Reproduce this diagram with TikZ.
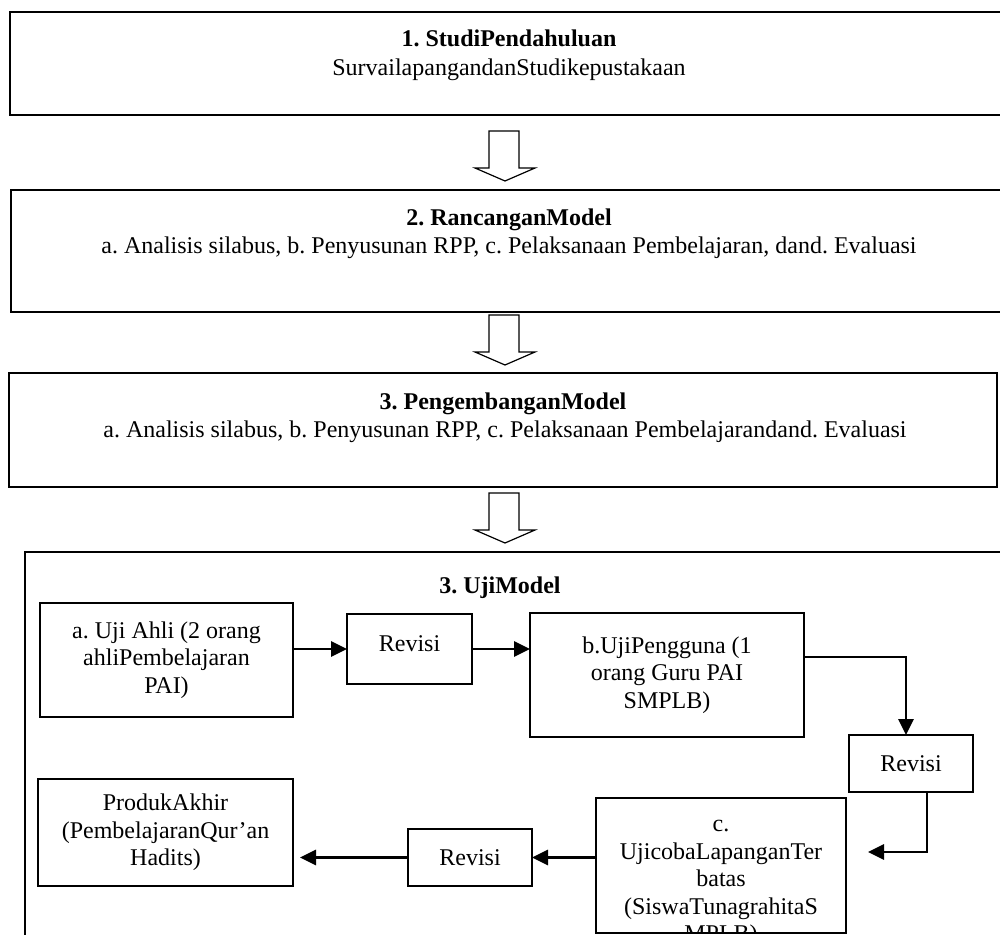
\documentclass[tikz,border=0pt]{standalone}
\usepackage{fontspec}
\setmainfont{Liberation Serif}
\usetikzlibrary{positioning,arrows.meta}
\frenchspacing

\tikzset{
  stage/.style={draw, line width=1pt, anchor=north west, inner sep=0pt, outer sep=0pt},
  stagetext/.style={font=\fontsize{12pt}{13.8pt}\selectfont, inner sep=0pt, anchor=base},
  testbox/.style={draw, line width=1pt, anchor=north west, inner sep=0pt, outer sep=0pt,
    align=center, font=\fontsize{12pt}{13.8pt}\selectfont},
  flow/.style={line width=1.4pt, -{Triangle[length=8pt,width=7.5pt]}},
  hollow/.style={line width=0.6pt, fill=white}
}
\newcommand{\hollowarrow}[1]{%
  \draw[hollow] (489,#1) -- (519,#1) -- (519,#1+37) -- (535,#1+37) -- (505,#1+50)
    -- (475,#1+37) -- (489,#1+37) -- cycle;}

\begin{document}
\begin{tikzpicture}[x=0.5pt,y=-0.5pt]
    \useasboundingbox (0,0) rectangle (1000,935);
    \clip (0,0) rectangle (1000,935);

    % stages 1-3
    \node[stage, minimum width=499.5pt, minimum height=51.5pt] (s1) at (10,12) {};
    \node[stagetext] (s1title) at (509,47) {\textbf{1. StudiPendahuluan}};
    \node[stagetext] (s1sub) at (509,76) {SurvailapangandanStudikepustakaan};

    \hollowarrow{131}

    \node[stage, minimum width=499pt, minimum height=61pt] (s2) at (11,190) {};
    \node[stagetext] (s2title) at (509,226) {\textbf{2. RancanganModel}};
    \node[stagetext] (s2sub) at (509,254) {a. Analisis silabus, b. Penyusunan RPP, c. Pelaksanaan Pembelajaran, dand. Evaluasi};

    \hollowarrow{315}

    \node[stage, minimum width=494pt, minimum height=57pt] (s3) at (9,373) {};
    \node[stagetext] (s3title) at (503,409) {\textbf{3. PengembanganModel}};
    \node[stagetext] (s3sub) at (505,437) {a. Analisis silabus, b. Penyusunan RPP, c. Pelaksanaan Pembelajarandand. Evaluasi};

    \hollowarrow{493}

    % uji model
    \node[stage, minimum width=500pt, minimum height=200pt] (uji) at (25,552) {};
    \node[stagetext] (ujititle) at (500,593) {\textbf{3. UjiModel}};

    \node[testbox, minimum width=126.5pt, minimum height=57pt] (a) at (40,603) {a. Uji Ahli (2 orang\\ahliPembelajaran\\PAI)};
    \node[testbox, minimum width=62.5pt, minimum height=35pt, text depth=5pt] (r1) at (347,614) {Revisi};
    \node[testbox, minimum width=137pt, minimum height=62pt] (b) at (530,613) {b.UjiPengguna (1\\orang Guru PAI\\SMPLB)};
    \node[testbox, minimum width=62pt, minimum height=28.5pt] (r2) at (849,735) {Revisi};
    \node[testbox, minimum width=125pt, minimum height=67.5pt] (c) at (596,798) {};
    \begin{scope}
      \clip (c.north west) rectangle ([yshift=1pt]c.south east);
      \node[anchor=north, align=center, inner sep=0pt, font=\fontsize{12pt}{13.8pt}\selectfont] (ctext)
        at ([yshift=-6.85pt]c.north) {\strut c.\\UjicobaLapanganTer\\batas\\(SiswaTunagrahitaS\\MPLB)};
    \end{scope}
    \node[testbox, minimum width=62pt, minimum height=28.5pt] (r3) at (408,829) {Revisi};
    \node[testbox, minimum width=127.5pt, minimum height=53.5pt] (p) at (38,779) {ProdukAkhir\\(PembelajaranQur’an\\Hadits)};

    \coordinate (cin) at (868,852);

    \draw[flow] (r1.west -| a.east) -- (r1.west);
    \draw[flow] (r1.east) -- (r1.east -| b.west);
    \draw[flow] ([yshift=9pt]b.east) -| ([xshift=-2.5pt]r2.north);
    \draw[flow] ([xshift=8pt]r2.south) |- (cin);
    \draw[flow] (r3.east -| c.west) -- (r3.east);
    \draw[flow, shorten >=3.5pt] (r3.west) -- (r3.west -| p.east);

  \end{tikzpicture}
\end{document}
